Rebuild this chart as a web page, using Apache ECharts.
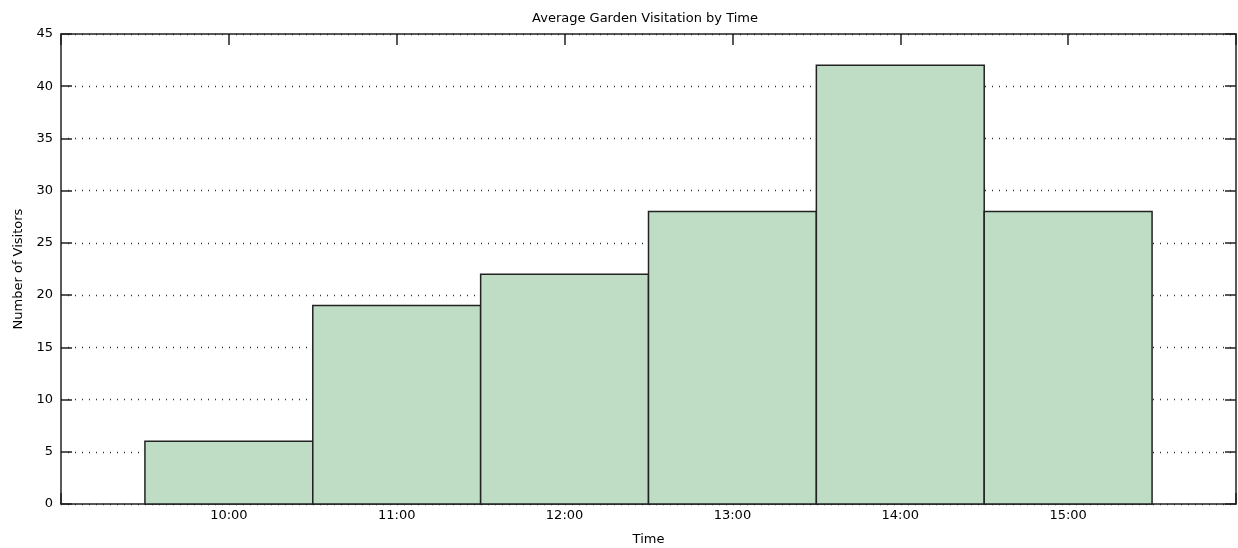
<!DOCTYPE html>
<html>
<head>
<meta charset="utf-8">
<script src="https://cdn.jsdelivr.net/npm/echarts@6/dist/echarts.min.js"></script>
<style>
html,body{margin:0;padding:0;background:#fff;}
#chart{width:1238px;height:548px;}
</style>
</head>
<body>
<div id="chart"></div>
<script>
var titleText = 'Average Garden Visitation by Time';
var categories = ['10:00', '11:00', '12:00', '13:00', '14:00', '15:00'];
var hours = [10, 11, 12, 13, 14, 15];
var visitors = [6, 19, 22, 28, 42, 28];
var yTicks = [0, 5, 10, 15, 20, 25, 30, 35, 40, 45];

var chart = echarts.init(document.getElementById('chart'), null, {renderer: 'canvas'});
var font = 'DejaVu Sans';
var fs = 13;
var axisLineStyle = {color: '#222', width: 1.5};

var data = hours.map(function (h, i) { return [h, visitors[i]]; });

function labelFor(v) {
  var i = hours.indexOf(v);
  return i >= 0 ? categories[i] : '';
}

var option = {
  backgroundColor: '#fff',
  animation: false,
  title: {
    text: titleText,
    left: 640, top: 7,
    textAlign: 'center',
    textStyle: {fontFamily: font, fontSize: fs, fontWeight: 'normal', color: '#000'}
  },
  grid: {left: 61, right: 2, top: 34, bottom: 44, containLabel: false, outerBoundsMode: 'none'},
  xAxis: [{
    type: 'value', min: 9, max: 16, interval: 1, position: 'bottom',
    name: 'Time', nameLocation: 'middle', nameGap: 29,
    nameTextStyle: {fontFamily: font, fontSize: fs, color: '#000'},
    axisLine: {show: true, onZero: false, lineStyle: axisLineStyle},
    axisTick: {show: true, inside: true, length: 11, lineStyle: axisLineStyle},
    axisLabel: {fontFamily: font, fontSize: fs, color: '#000', margin: 5, formatter: labelFor},
    splitLine: {show: false}
  }, {
    type: 'value', min: 9, max: 16, interval: 1, position: 'top',
    axisLine: {show: true, onZero: false, lineStyle: axisLineStyle},
    axisTick: {show: true, inside: true, length: 11, lineStyle: axisLineStyle},
    axisLabel: {show: false},
    splitLine: {show: false}
  }],
  yAxis: [{
    type: 'value', min: 0, max: 45, interval: 5, position: 'left',
    name: 'Number of Visitors', nameLocation: 'middle', nameGap: 35, nameRotate: 90,
    nameTextStyle: {fontFamily: font, fontSize: fs, color: '#000'},
    axisLine: {show: true, onZero: false, lineStyle: axisLineStyle},
    axisTick: {show: true, inside: true, length: 11, lineStyle: axisLineStyle},
    axisLabel: {fontFamily: font, fontSize: fs, color: '#000', margin: 8,
      formatter: function (v) { return yTicks.indexOf(v) >= 0 ? String(v) : ''; }},
    splitLine: {show: true, lineStyle: {color: '#333', width: 1.3, type: [1, 6]}}
  }, {
    type: 'value', min: 0, max: 45, interval: 5, position: 'right',
    axisLine: {show: true, onZero: false, lineStyle: axisLineStyle},
    axisTick: {show: true, inside: true, length: 11, lineStyle: axisLineStyle},
    axisLabel: {show: false},
    splitLine: {show: false}
  }],
  series: [{
    type: 'custom',
    xAxisIndex: 0, yAxisIndex: 0,
    data: data,
    encode: {x: 0, y: 1},
    renderItem: function (params, api) {
      var x = api.value(0), y = api.value(1);
      var p1 = api.coord([x - 0.5, y]);
      var p2 = api.coord([x + 0.5, 0]);
      return {
        type: 'rect',
        shape: {x: p1[0], y: p1[1], width: p2[0] - p1[0], height: p2[1] - p1[1]},
        style: {fill: '#bfdcc4', stroke: '#222', lineWidth: 1.5}
      };
    },
    z: 3
  }]
};
chart.setOption(option);
</script>
</body>
</html>
